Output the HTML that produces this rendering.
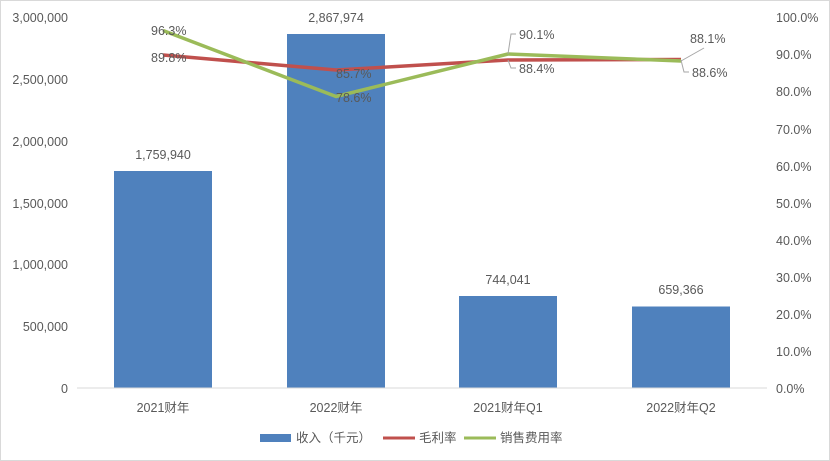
<!DOCTYPE html>
<html><head><meta charset="utf-8"><style>
html,body{margin:0;padding:0;background:#fff}
svg{display:block}
text{font-family:"Liberation Sans","Noto Sans CJK SC",sans-serif;fill:#595959;font-size:12.5px}
</style></head><body>
<svg width="830" height="461" viewBox="0 0 830 461">
<rect x="0.5" y="0.5" width="829" height="460" fill="#fff" stroke="#d9d9d9"/>
<!-- left axis labels -->
<g text-anchor="end">
<text x="68" y="22">3,000,000</text>
<text x="68" y="84">2,500,000</text>
<text x="68" y="146">2,000,000</text>
<text x="68" y="208">1,500,000</text>
<text x="68" y="269">1,000,000</text>
<text x="68" y="331">500,000</text>
<text x="68" y="393">0</text>
</g>
<g text-anchor="start">
<text x="776" y="22">100.0%</text>
<text x="776" y="59">90.0%</text>
<text x="776" y="96">80.0%</text>
<text x="776" y="134">70.0%</text>
<text x="776" y="171">60.0%</text>
<text x="776" y="208">50.0%</text>
<text x="776" y="245">40.0%</text>
<text x="776" y="282">30.0%</text>
<text x="776" y="319">20.0%</text>
<text x="776" y="356">10.0%</text>
<text x="776" y="393">0.0%</text>
</g>
<!-- bars -->
<g fill="#4f81bd">
<rect x="114" y="171" width="98" height="217"/>
<rect x="287" y="34" width="98" height="354"/>
<rect x="459" y="296" width="98" height="92"/>
<rect x="632" y="306.5" width="98" height="81.5"/>
</g>
<line x1="77" y1="388" x2="767" y2="388" stroke="#d9d9d9" stroke-width="1"/>
<g text-anchor="middle">
<text x="163" y="159">1,759,940</text>
<text x="336" y="22">2,867,974</text>
<text x="508" y="284">744,041</text>
<text x="681" y="294">659,366</text>
<text x="163" y="412">2021财年</text>
<text x="336" y="412">2022财年</text>
<text x="508" y="412">2021财年Q1</text>
<text x="681" y="412">2022财年Q2</text>
</g>
<!-- lines -->
<polyline points="163,55 336,70 508,60 681,59.5" fill="none" stroke="#c0504d" stroke-width="3.5" stroke-linejoin="round"/>
<polyline points="163,30.5 336,96.5 508,54 681,61" fill="none" stroke="#9bbb59" stroke-width="3.5" stroke-linejoin="round"/>
<!-- leader lines -->
<g fill="none" stroke="#a6a6a6" stroke-width="1">
<polyline points="508,54 511,34 516,34"/>
<polyline points="508,60 511,68 516,68"/>
<polyline points="681,61 704,48"/>
<polyline points="681,60 684,72 689,72"/>
</g>
<text x="151" y="35">96.3%</text>
<text x="151" y="62">89.8%</text>
<text x="336" y="78">85.7%</text>
<text x="336" y="102">78.6%</text>
<text x="519" y="39">90.1%</text>
<text x="519" y="73">88.4%</text>
<text x="690" y="43">88.1%</text>
<text x="692" y="77">88.6%</text>
<!-- legend -->
<rect x="260" y="434" width="31" height="8" fill="#4f81bd"/>
<text x="296" y="442">收入（千元）</text>
<line x1="383" y1="438" x2="415" y2="438" stroke="#c0504d" stroke-width="3"/>
<text x="419" y="442">毛利率</text>
<line x1="464" y1="438" x2="496" y2="438" stroke="#9bbb59" stroke-width="3"/>
<text x="500" y="442">销售费用率</text>
</svg>
</body></html>
